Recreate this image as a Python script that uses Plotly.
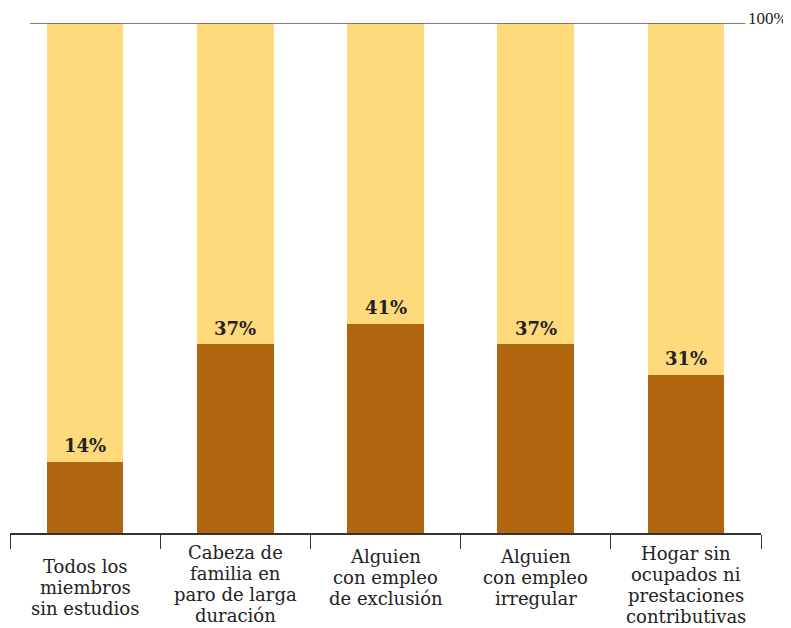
import plotly.graph_objects as go

categories = ["Todos los<br>miembros<br>sin estudios",
              "Cabeza de<br>familia en<br>paro de larga<br>duración",
              "Alguien<br>con empleo<br>de exclusión",
              "Alguien<br>con empleo<br>irregular",
              "Hogar sin<br>ocupados ni<br>prestaciones<br>contributivas"]
values = [14, 37, 41, 37, 31]
total = [100, 100, 100, 100, 100]

DARK = "#B0650E"
LIGHT = "#FFDA7D"
TXT = "#222222"
x = list(range(len(categories)))
rest = [t - v for t, v in zip(total, values)]

fig = go.Figure()
fig.add_bar(x=x, y=values, marker_color=DARK, width=0.51, marker_line_width=0, hoverinfo="skip")
fig.add_bar(x=x, y=rest, marker_color=LIGHT, width=0.51, marker_line_width=0, hoverinfo="skip")

ann = []
for i, v in enumerate(values):
    ann.append(dict(x=i, y=v, xref="x", yref="y", text=f"<b>{v}%</b>", showarrow=False,
                    yanchor="middle", yshift=16,
                    font=dict(family="DejaVu Serif", size=18, color=TXT)))

first_line = [33, 19, 23, 23, 20]   # px below axis of first line centre
line_gap = 21
for i, c in enumerate(categories):
    for j, line in enumerate(c.split("<br>")):
        ann.append(dict(x=i, y=0, xref="x", yref="y", text=line, showarrow=False,
                        yanchor="middle", yshift=-(first_line[i] + j * line_gap),
                        font=dict(family="DejaVu Serif", size=18, color=TXT)))

ann.append(dict(x=0.979, y=100, xref="paper", yref="y", text="100%", showarrow=False,
                xanchor="left", yanchor="middle", xshift=1, yshift=5,
                font=dict(family="Liberation Serif", size=17, color=TXT)))

fig.update_layout(
    barmode="stack", width=791, height=628, showlegend=False,
    margin=dict(l=2, r=38, t=15, b=103),
    plot_bgcolor="white", paper_bgcolor="white",
    bargap=0,
    annotations=ann,
    shapes=[dict(type="line", xref="paper", yref="y", x0=0.0266, x1=0.979, y0=100, y1=100,
                 line=dict(color="#555", width=1.5), layer="above")],
)
fig.update_xaxes(range=[-0.5, 4.5], tickvals=[-0.5, 0.5, 1.5, 2.5, 3.5, 4.5],
                 showticklabels=False, ticks="outside", ticklen=14, tickcolor="#333", tickwidth=1.3,
                 showline=True, linecolor="#333", linewidth=1.5, showgrid=False, zeroline=False)
fig.update_yaxes(range=[0, 100], showticklabels=False, showgrid=False, zeroline=False, showline=False)

fig.write_html("out.html")
